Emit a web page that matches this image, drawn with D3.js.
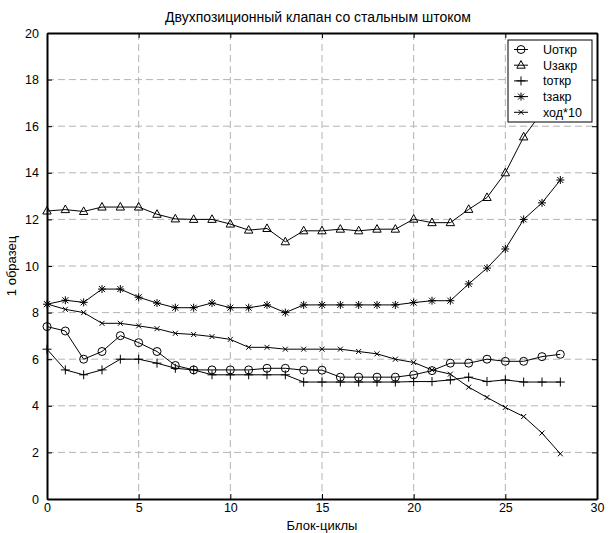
<!DOCTYPE html>
<html><head><meta charset="utf-8">
<script src="https://cdn.jsdelivr.net/npm/d3@7"></script>
<style>
body{margin:0;background:#fff;}
text{font-family:"Liberation Sans",Arial,sans-serif;fill:#000;}
</style></head>
<body>
<svg id="chart" width="611" height="533"></svg>
<script>
const cycles = d3.range(0, 29);
const uOtkr = [7.40,7.21,6.00,6.33,7.01,6.71,6.33,5.73,5.54,5.54,5.54,5.54,5.61,5.61,5.53,5.53,5.23,5.23,5.23,5.23,5.33,5.51,5.83,5.83,6.00,5.91,5.91,6.11,6.21];
const uZakr = [12.36,12.42,12.34,12.53,12.53,12.53,12.22,12.02,12.00,12.00,11.80,11.54,11.61,11.04,11.51,11.51,11.58,11.51,11.58,11.58,12.01,11.86,11.86,12.43,12.94,14.00,15.54,16.60,17.60];
const tOtkr = [6.43,5.54,5.33,5.54,6.00,6.00,5.83,5.61,5.54,5.33,5.33,5.33,5.33,5.33,5.02,5.02,5.02,5.02,5.02,5.02,5.04,5.04,5.11,5.23,5.04,5.11,5.02,5.02,5.02];
const tZakr = [8.36,8.53,8.44,9.01,9.01,8.66,8.41,8.21,8.21,8.41,8.21,8.21,8.33,8.00,8.33,8.33,8.33,8.33,8.33,8.33,8.43,8.51,8.51,9.23,9.91,10.73,12.00,12.71,13.69];
const hod10 = [8.37,8.14,8.00,7.54,7.54,7.43,7.31,7.11,7.06,6.97,6.85,6.51,6.51,6.43,6.43,6.43,6.43,6.33,6.23,6.00,5.86,5.54,5.36,4.80,4.36,3.93,3.54,2.83,1.94];
const seriesNames = ["Uоткр","Uзакр","tоткр","tзакр","ход*10"];
const seriesMarkers = ["circle","triangle","plus","asterisk","cross"];
const xTicks = [0,5,10,15,20,25,30];
const yTicks = [0,2,4,6,8,10,12,14,16,18,20];
const titleText = "Двухпозиционный клапан со стальным штоком";
const xLabel = "Блок-циклы";
const yLabel = "1 образец";

const allSeries = [uOtkr,uZakr,tOtkr,tZakr,hod10];

const svg = d3.select("#chart");
const L = 47, R = 597, T = 33, B = 499;
const x = d3.scaleLinear().domain([0,30]).range([L,R]);
const y = d3.scaleLinear().domain([0,20]).range([B,T]);

// grid
const grid = svg.append("g");
xTicks.slice(1,-1).forEach(t=>{
  grid.append("line").attr("x1",x(t)).attr("x2",x(t)).attr("y1",T).attr("y2",B)
    .attr("stroke","#b4b4b4").attr("stroke-width",1).attr("stroke-dasharray","7,4");
});
yTicks.slice(1,-1).forEach(t=>{
  grid.append("line").attr("x1",L).attr("x2",R).attr("y1",y(t)).attr("y2",y(t))
    .attr("stroke","#b4b4b4").attr("stroke-width",1).attr("stroke-dasharray","7,4");
});

// axes
const xAxisB = d3.axisBottom(x).tickValues(xTicks).tickSizeInner(-5).tickSizeOuter(0).tickPadding(4);
const xAxisT = d3.axisTop(x).tickValues(xTicks).tickSizeInner(-5).tickSizeOuter(0).tickFormat("");
const yAxisL = d3.axisLeft(y).tickValues(yTicks).tickSizeInner(-5).tickSizeOuter(0).tickPadding(8);
const yAxisR = d3.axisRight(y).tickValues(yTicks).tickSizeInner(-5).tickSizeOuter(0).tickFormat("");
function styleAx(g){
  g.select(".domain").attr("stroke","#000").attr("stroke-width",2);
  g.selectAll(".tick line").attr("stroke","#000").attr("stroke-width",1);
  g.selectAll(".tick text").attr("font-size",12.5).attr("font-family","Liberation Sans, Arial, sans-serif").attr("fill","#000");
}
svg.append("g").attr("transform",`translate(0,${B})`).call(xAxisB).call(styleAx);
svg.append("g").attr("transform",`translate(0,${T})`).call(xAxisT).call(styleAx);
svg.append("g").attr("transform",`translate(${L},0)`).call(yAxisL).call(styleAx);
svg.append("g").attr("transform",`translate(${R},0)`).call(yAxisR).call(styleAx);

// marker paths
function markerPath(type){
  switch(type){
    case "circle": return "M4,0A4,4 0 1,1 -4,0A4,4 0 1,1 4,0Z";
    case "triangle": return "M0,-4.6L4.2,3L-4.2,3Z";
    case "plus": return "M-4.5,0L4.5,0M0,-4.5L0,4.5";
    case "asterisk": return "M-4,0L4,0M0,-4L0,4M-3,-3L3,3M-3,3L3,-3";
    case "cross": return "M-2.5,-2.5L2.5,2.5M-2.5,2.5L2.5,-2.5";
  }
}

const line = d3.line().x((d,i)=>x(cycles[i])).y(d=>y(d));
const plot = svg.append("g");
allSeries.forEach((vals,si)=>{
  plot.append("path").datum(vals).attr("d",line).attr("fill","none").attr("stroke","#000").attr("stroke-width",1);
  plot.selectAll(null).data(vals).enter().append("path")
    .attr("transform",(d,i)=>`translate(${x(cycles[i])},${y(d)})`)
    .attr("d",markerPath(seriesMarkers[si]))
    .attr("fill","none").attr("stroke","#000").attr("stroke-width",1);
});

// legend
const lg = svg.append("g");
const lx = 508, ly = 40, lw = 84, lh = 82;
lg.append("rect").attr("x",lx).attr("y",ly).attr("width",lw).attr("height",lh)
  .attr("fill","#fff").attr("stroke","#000").attr("stroke-width",1);
seriesNames.forEach((n,i)=>{
  const yy = ly + 9.5 + i*15.7;
  lg.append("line").attr("x1",lx+6).attr("x2",lx+20).attr("y1",yy).attr("y2",yy).attr("stroke","#000");
  lg.append("path").attr("transform",`translate(${lx+13},${yy})`).attr("d",markerPath(seriesMarkers[i]))
    .attr("fill","none").attr("stroke","#000");
  lg.append("text").attr("x",lx+35).attr("y",yy+4.5).attr("font-size",12.5).text(n);
});

// titles
svg.append("text").attr("x",318).attr("y",22).attr("text-anchor","middle").attr("font-size",14).text(titleText);
svg.append("text").attr("x",322).attr("y",530).attr("text-anchor","middle").attr("font-size",13).text(xLabel);
svg.append("text").attr("transform",`translate(16,266) rotate(-90)`).attr("text-anchor","middle").attr("font-size",13).text(yLabel);
</script>
</body></html>
